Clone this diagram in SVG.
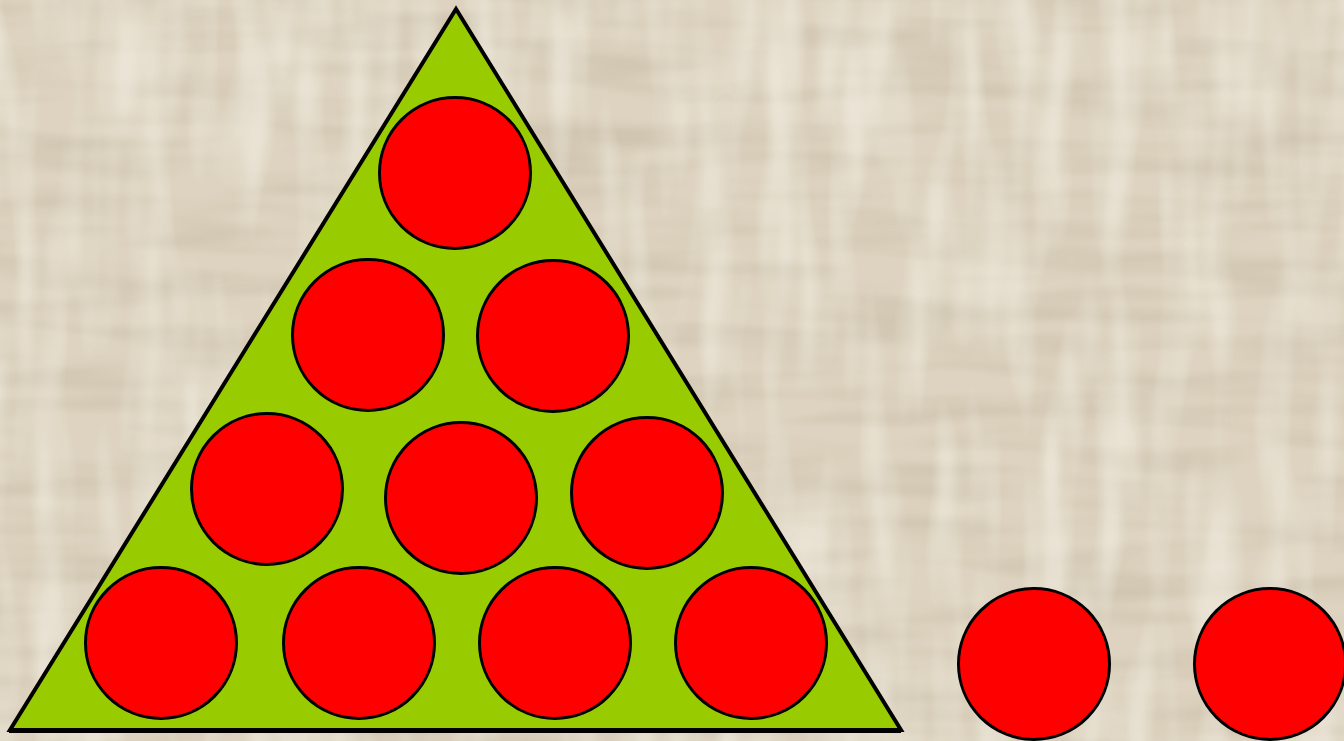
<svg xmlns="http://www.w3.org/2000/svg" width="1344" height="741" viewBox="0 0 1344 741">
  <style>
    .ball { fill: #ff0000; stroke: #000000; stroke-width: 3; }
    .tri { fill: #99cc00; stroke: #000000; stroke-width: 4; stroke-linejoin: miter; }
  </style>
  <defs>
    <filter id="weaveH" x="0" y="0" width="100%" height="100%">
      <feTurbulence type="fractalNoise" baseFrequency="0.006 0.04" numOctaves="2" seed="3"/>
      <feColorMatrix type="matrix" values="0 0 0 0 0.55  0 0 0 0 0.48  0 0 0 0 0.36  0 0 0 -2.2 1.35"/>
    </filter>
    <filter id="weaveV" x="0" y="0" width="100%" height="100%">
      <feTurbulence type="fractalNoise" baseFrequency="0.03 0.006" numOctaves="2" seed="7"/>
      <feColorMatrix type="matrix" values="0 0 0 0 0.97  0 0 0 0 0.94  0 0 0 0 0.87  0 0 0 -2.4 1.45"/>
    </filter>
  </defs>
  <g id="background">
    <rect x="0" y="0" width="1344" height="741" fill="#ddd3c0"/>
    <rect x="0" y="0" width="1344" height="741" filter="url(#weaveH)" opacity="0.5"/>
    <rect x="0" y="0" width="1344" height="741" filter="url(#weaveV)" opacity="0.45"/>
  </g>
  <g id="triangle">
    <polygon class="tri" points="456,9 10,730 901,730"/>
    <line x1="9" y1="731" x2="901" y2="731" stroke="#000" stroke-width="4"/>
  </g>
  <g id="ball-1"><circle class="ball" cx="455" cy="173" r="75.5"/></g>
  <g id="ball-2"><circle class="ball" cx="368" cy="335" r="75.5"/></g>
  <g id="ball-3"><circle class="ball" cx="553" cy="336" r="75.5"/></g>
  <g id="ball-4"><circle class="ball" cx="267" cy="489" r="75.5"/></g>
  <g id="ball-5"><circle class="ball" cx="461" cy="498" r="75.5"/></g>
  <g id="ball-6"><circle class="ball" cx="647" cy="493" r="75.5"/></g>
  <g id="ball-7"><circle class="ball" cx="161" cy="643" r="75.5"/></g>
  <g id="ball-8"><circle class="ball" cx="359" cy="643" r="75.5"/></g>
  <g id="ball-9"><circle class="ball" cx="555" cy="643" r="75.5"/></g>
  <g id="ball-10"><circle class="ball" cx="751" cy="643" r="75.5"/></g>
  <g id="ball-11"><circle class="ball" cx="1034" cy="664" r="75.5"/></g>
  <g id="ball-12"><circle class="ball" cx="1270" cy="664" r="75.5"/></g>
  <g id="connectors"/>
</svg>
